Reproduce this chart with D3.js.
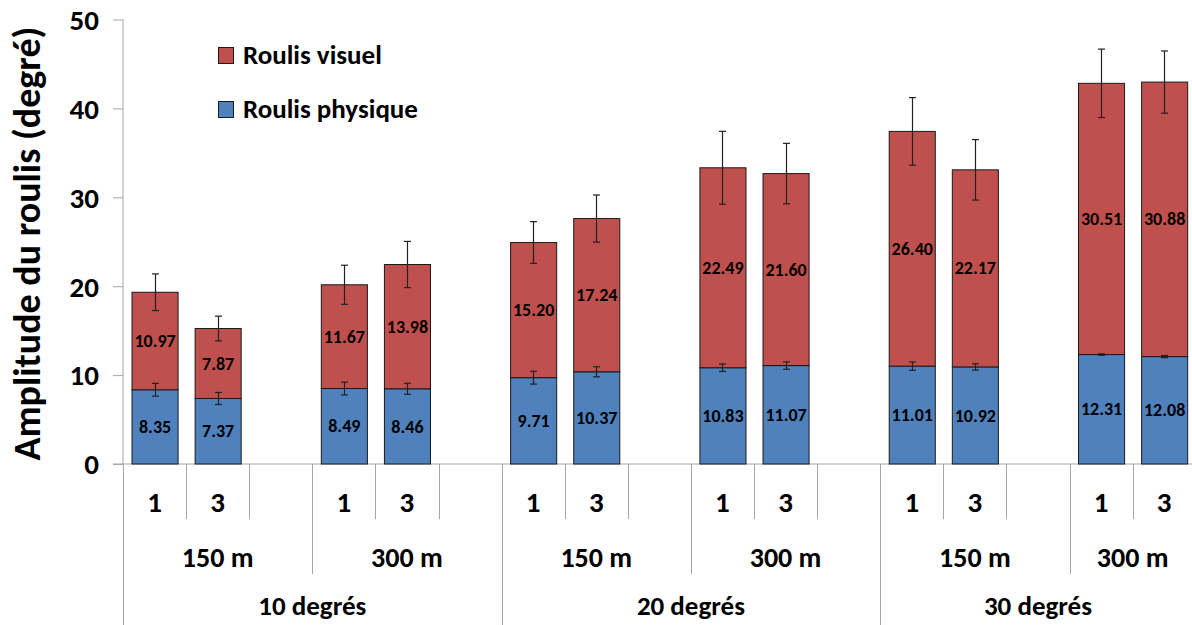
<!DOCTYPE html>
<html>
<head>
<meta charset="utf-8">
<script src="https://cdn.jsdelivr.net/npm/d3@7"></script>
<style>
  html, body { margin: 0; padding: 0; background: #fff; }
  svg { display: block; font-family: Carlito, Lato, "Open Sans", sans-serif; }
</style>
</head>
<body>
<svg id="chart" width="1192" height="625"></svg>
<script>
// ---- data ----
const degreeGroups = ["10 degrés", "20 degrés", "30 degrés"];
const distanceGroups = ["150 m", "300 m"];
const sessionLabels = ["1", "3"];
const seriesNames = ["Roulis visuel", "Roulis physique"];
const physique = [8.35, 7.37, 8.49, 8.46, 9.71, 10.37, 10.83, 11.07, 11.01, 10.92, 12.31, 12.08];
const visuel   = [10.97, 7.87, 11.67, 13.98, 15.20, 17.24, 22.49, 21.60, 26.40, 22.17, 30.51, 30.88];
const errPhysique = [0.72, 0.68, 0.72, 0.62, 0.72, 0.57, 0.42, 0.42, 0.47, 0.36, 0.08, 0.12];
const errTotal    = [2.06, 1.39, 2.2, 2.6, 2.35, 2.65, 4.1, 3.4, 3.8, 3.4, 3.85, 3.5];
const yTicks = [0, 10, 20, 30, 40, 50];
const yTitle = "Amplitude du roulis (degré)";

const FONT = "Carlito, Lato, 'Open Sans', sans-serif";

// ---- build category slots (blank slot after each pair, except the last) ----
const slots = [];
let barIdx = 0;
degreeGroups.forEach((deg, di) => {
  distanceGroups.forEach((dist, mi) => {
    sessionLabels.forEach(s => {
      slots.push({ id: "s" + slots.length, deg, dist, ses: s, bar: barIdx++ });
    });
    const last = di === degreeGroups.length - 1 && mi === distanceGroups.length - 1;
    if (!last) slots.push({ id: "s" + slots.length, deg, dist, ses: "", bar: null });
  });
});

const bars = slots.filter(s => s.bar !== null).map(s => ({
  slot: s.id,
  phys: physique[s.bar],
  vis: visuel[s.bar],
  ePhys: errPhysique[s.bar],
  eTot: errTotal[s.bar]
}));

// ---- layout ----
const svg = d3.select("#chart");
const x0 = 123, xEnd = 1195.7, yBase = 464, yTop = 19.5;
const x = d3.scaleBand().domain(slots.map(s => s.id)).range([x0, xEnd])
  .paddingInner(0.27).paddingOuter(0.135);
const step = x.step();
const y = d3.scaleLinear().domain([0, 50]).range([yBase, yTop]);

const RED = "#C0504D", BLUE = "#4F81BD", AXIS = "#a6a6a6";

// y axis
const yAxis = d3.axisLeft(y).tickValues(yTicks).tickSize(10).tickPadding(14).tickFormat(d3.format("d"));
const gy = svg.append("g").attr("transform", `translate(${x0},0)`).call(yAxis)
  .attr("font-family", FONT).attr("font-size", 29);
gy.select(".domain").attr("stroke", AXIS).attr("d", `M0,${yTop}V${yBase}`);
gy.selectAll(".tick line").attr("stroke", AXIS);
gy.selectAll(".tick text").attr("fill", "#000").style("font-weight", "bold")
  .attr("dy", "0.34em");

// y title
svg.append("text")
  .attr("transform", `translate(40,${(25 + 462) / 2}) rotate(-90)`)
  .attr("text-anchor", "middle")
  .style("font-size", "38px").style("font-weight", "bold").attr("fill", "#000")
  .text(yTitle);

// x axis baseline
svg.append("line").attr("x1", x0 - 10).attr("x2", xEnd).attr("y1", yBase).attr("y2", yBase)
  .attr("stroke", AXIS);

// category separators
const bottoms = { 1: 519, 2: 574, 3: 625 };
d3.range(0, slots.length + 1).forEach(b => {
  const lvl = (b % 6 === 0 || b === slots.length) ? 3 : (b % 3 === 0 ? 2 : 1);
  const xb = Math.round(x0 + b * step) + 0.5;
  svg.append("line").attr("x1", xb).attr("x2", xb).attr("y1", yBase).attr("y2", bottoms[lvl])
    .attr("stroke", AXIS);
});

// level 1 labels
svg.append("g").selectAll("text").data(slots.filter(s => s.ses !== "")).join("text")
  .attr("x", d => x(d.id) + x.bandwidth() / 2).attr("y", 502).attr("dy", "0.34em")
  .attr("text-anchor", "middle").style("font-size", "29px").style("font-weight", "bold")
  .text(d => d.ses);

function groupCenter(g) {
  const first = g[1][0].id, lastS = g[1][g[1].length - 1].id;
  const pad = (step - x.bandwidth()) / 2;
  return (x(first) - pad + x(lastS) + x.bandwidth() + pad) / 2;
}

// level 2 labels
const distGroupsArr = d3.groups(slots, d => d.deg + "|" + d.dist);
svg.append("g").selectAll("text").data(distGroupsArr).join("text")
  .attr("x", groupCenter)
  .attr("y", 557).attr("dy", "0.34em").attr("text-anchor", "middle")
  .style("font-size", "28px").style("font-weight", "bold")
  .text(g => g[1][0].dist);

// level 3 labels
const degGroupsArr = d3.groups(slots, d => d.deg);
svg.append("g").selectAll("text").data(degGroupsArr).join("text")
  .attr("x", groupCenter)
  .attr("y", 606).attr("dy", "0.34em").attr("text-anchor", "middle")
  .style("font-size", "27px").style("font-weight", "bold")
  .text(g => g[0]);

// bars
const gb = svg.append("g");
gb.selectAll("rect.phys").data(bars).join("rect").attr("class", "phys")
  .attr("x", d => x(d.slot) + 0.5).attr("width", x.bandwidth())
  .attr("y", d => y(d.phys)).attr("height", d => y(0) - y(d.phys))
  .attr("fill", BLUE).attr("stroke", "#1a1a1a").attr("stroke-width", 1);
gb.selectAll("rect.vis").data(bars).join("rect").attr("class", "vis")
  .attr("x", d => x(d.slot) + 0.5).attr("width", x.bandwidth())
  .attr("y", d => y(d.phys + d.vis)).attr("height", d => y(d.phys) - y(d.phys + d.vis))
  .attr("fill", RED).attr("stroke", "#1a1a1a").attr("stroke-width", 1);

// error bars
function errorBar(sel, valFn, errFn) {
  sel.each(function (d) {
    const cx = Math.round(x(d.slot) + x.bandwidth() / 2) + 0.5;
    const v = valFn(d), e = errFn(d);
    const g = d3.select(this);
    g.append("line").attr("x1", cx).attr("x2", cx).attr("y1", y(v + e)).attr("y2", y(v - e));
    g.append("line").attr("x1", cx - 3.5).attr("x2", cx + 3.5).attr("y1", y(v + e)).attr("y2", y(v + e));
    g.append("line").attr("x1", cx - 3.5).attr("x2", cx + 3.5).attr("y1", y(v - e)).attr("y2", y(v - e));
  });
}
const ge = svg.append("g").attr("stroke", "#222").attr("stroke-width", 1.2);
errorBar(ge.selectAll("g.ep").data(bars).join("g").attr("class", "ep"), d => d.phys, d => d.ePhys);
errorBar(ge.selectAll("g.et").data(bars).join("g").attr("class", "et"), d => d.phys + d.vis, d => d.eTot);

// data labels
const gl = svg.append("g").attr("text-anchor", "middle").style("font-size", "18px").style("font-weight", "bold").attr("fill", "#000");
gl.selectAll("text.lp").data(bars).join("text").attr("class", "lp")
  .attr("x", d => x(d.slot) + x.bandwidth() / 2 + 0.5)
  .attr("y", d => (y(0) + y(d.phys)) / 2).attr("dy", "0.34em")
  .text(d => d.phys.toFixed(2));
gl.selectAll("text.lv").data(bars).join("text").attr("class", "lv")
  .attr("x", d => x(d.slot) + x.bandwidth() / 2 + 0.5)
  .attr("y", d => (y(d.phys) + y(d.phys + d.vis)) / 2).attr("dy", "0.34em")
  .text(d => d.vis.toFixed(2));

// legend
const legend = svg.append("g");
const legendItems = [{ name: seriesNames[0], color: RED, y: 47 }, { name: seriesNames[1], color: BLUE, y: 101 }];
legend.selectAll("rect").data(legendItems).join("rect")
  .attr("x", 218.5).attr("y", d => d.y + 0.5).attr("width", 15).attr("height", 16)
  .attr("fill", d => d.color).attr("stroke", "#1a1a1a");
legend.selectAll("text").data(legendItems).join("text")
  .attr("x", 243).attr("y", d => d.y + 16.5)
  .style("font-size", "27px").style("font-weight", "bold")
  .text(d => d.name);
</script>
</body>
</html>
